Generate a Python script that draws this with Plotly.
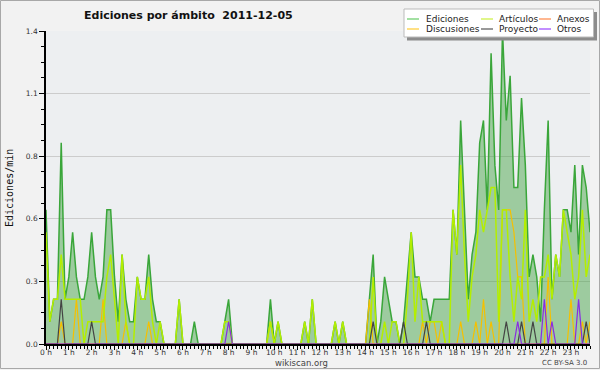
import plotly.graph_objects as go

# ---------------- data (10-minute buckets, edits per minute) ----------------
times = [i / 6 for i in range(144)]  # bucket start, hours

ediciones = [
    0.6, 0.1, 0.2, 0.2, 0.9, 0.2,
    0.3, 0.5, 0.3, 0.2, 0.2, 0.3,
    0.5, 0.3, 0.2, 0.3, 0.6, 0.6,
    0.3, 0.1, 0.4, 0.2, 0.1, 0.1,
    0.3, 0.2, 0.2, 0.4, 0.2, 0.1,
    0.1, 0.0, 0.0, 0.0, 0.0, 0.2,
    0.0, 0.0, 0.0, 0.1, 0.0, 0.0,
    0.0, 0.0, 0.0, 0.0, 0.0, 0.1,
    0.2, 0.0, 0.0, 0.0, 0.0, 0.0,
    0.0, 0.0, 0.0, 0.0, 0.0, 0.2,
    0.0, 0.1, 0.0, 0.0, 0.0, 0.0,
    0.0, 0.0, 0.1, 0.0, 0.2, 0.0,
    0.0, 0.0, 0.0, 0.0, 0.1, 0.0,
    0.1, 0.0, 0.0, 0.0, 0.0, 0.0,
    0.0, 0.2, 0.4, 0.0, 0.1, 0.3,
    0.2, 0.1, 0.1, 0.0, 0.1, 0.3,
    0.5, 0.3, 0.3, 0.2, 0.2, 0.1,
    0.2, 0.2, 0.2, 0.2, 0.2, 0.6,
    0.4, 1.0, 0.6, 0.2, 0.4, 0.5,
    0.9, 1.0, 0.6, 1.3, 0.8, 0.6,
    1.4, 1.0, 1.2, 0.7, 0.7, 1.1,
    0.8, 0.3, 0.4, 0.3, 0.1, 0.6,
    1.0, 0.2, 0.4, 0.3, 0.6, 0.6,
    0.5, 0.8, 0.4, 0.8, 0.7, 0.5,
]

articulos = [
    0.5, 0.1, 0.2, 0.2, 0.4, 0.2,
    0.2, 0.2, 0.2, 0.2, 0.0, 0.1,
    0.1, 0.1, 0.1, 0.1, 0.3, 0.4,
    0.2, 0.0, 0.4, 0.1, 0.0, 0.0,
    0.3, 0.2, 0.2, 0.3, 0.1, 0.0,
    0.1, 0.0, 0.0, 0.0, 0.0, 0.2,
    0.0, 0.0, 0.0, 0.0, 0.0, 0.0,
    0.0, 0.0, 0.0, 0.0, 0.0, 0.1,
    0.1, 0.0, 0.0, 0.0, 0.0, 0.0,
    0.0, 0.0, 0.0, 0.0, 0.0, 0.1,
    0.0, 0.1, 0.0, 0.0, 0.0, 0.0,
    0.0, 0.0, 0.1, 0.0, 0.2, 0.0,
    0.0, 0.0, 0.0, 0.0, 0.1, 0.0,
    0.1, 0.0, 0.0, 0.0, 0.0, 0.0,
    0.0, 0.0, 0.3, 0.0, 0.0, 0.1,
    0.0, 0.1, 0.1, 0.0, 0.0, 0.2,
    0.5, 0.1, 0.3, 0.1, 0.1, 0.1,
    0.1, 0.1, 0.1, 0.0, 0.0, 0.6,
    0.4, 0.8, 0.4, 0.1, 0.3, 0.4,
    0.6, 0.5, 0.6, 0.7, 0.7, 0.1,
    0.6, 0.6, 0.3, 0.1, 0.3, 0.2,
    0.6, 0.1, 0.2, 0.1, 0.3, 0.3,
    0.4, 0.2, 0.4, 0.3, 0.6, 0.5,
    0.4, 0.2, 0.3, 0.6, 0.3, 0.4,
]

discusiones = [0.0] * 144
for i, v in {4: 0.1, 8: 0.2, 15: 0.2, 21: 0.1, 27: 0.1, 59: 0.1, 85: 0.2,
             99: 0.1, 101: 0.1, 102: 0.1, 104: 0.1, 109: 0.1, 113: 0.1,
             115: 0.2, 117: 0.1, 120: 0.6, 121: 0.6, 122: 0.6, 123: 0.5,
             124: 0.3, 125: 0.3, 132: 0.3, 138: 0.2, 141: 0.1, 143: 0.1}.items():
    discusiones[i] = v

proyecto = [0.0] * 144
for i, v in {4: 0.2, 12: 0.1, 86: 0.1, 94: 0.1, 100: 0.1, 121: 0.1,
             125: 0.1, 128: 0.1, 142: 0.1}.items():
    proyecto[i] = v

otros = [0.0] * 144
for i, v in {48: 0.1, 124: 0.1, 131: 0.2, 133: 0.1, 140: 0.2}.items():
    otros[i] = v

anexos = [0.0] * 144

hour_ticks = list(range(24))
hour_labels = [f"{h} h" for h in hour_ticks]
y_ticks = [0, 0.28, 0.56, 0.84, 1.12, 1.4]
y_labels = ["0.0", "0.3", "0.6", "0.8", "1.1", "1.4"]

# ---------------- styling ----------------
C_ED_LINE = "#3aa63a"
C_ED_FILL = "rgba(60,160,60,0.45)"
C_ART = "#b4ee00"
C_DIS = "#f5c000"
C_PRO = "#444444"
C_OTR = "#8a2be2"
C_ANE = "#ff7a3a"

W, H = 600, 370
L, R, T, B = 46, 10, 31, 26
PW, PH = W - L - R, H - T - B


def px(x):
    return (x - L) / PW


def py(y):
    return (H - B - y) / PH


fig = go.Figure()
fig.add_trace(go.Scatter(x=times, y=ediciones, mode="lines", fill="tozeroy",
                         fillcolor=C_ED_FILL, line=dict(color=C_ED_LINE, width=1.5),
                         name="Ediciones", showlegend=False))
fig.add_trace(go.Scatter(x=times, y=anexos, mode="lines",
                         line=dict(color=C_ANE, width=1.2), name="Anexos", showlegend=False))
fig.add_trace(go.Scatter(x=times, y=discusiones, mode="lines",
                         line=dict(color=C_DIS, width=1.2), name="Discusiones", showlegend=False))
fig.add_trace(go.Scatter(x=times, y=articulos, mode="lines",
                         line=dict(color=C_ART, width=1.5), name="Artículos", showlegend=False))
fig.add_trace(go.Scatter(x=times, y=proyecto, mode="lines",
                         line=dict(color=C_PRO, width=1.2), name="Proyecto", showlegend=False))
fig.add_trace(go.Scatter(x=times, y=otros, mode="lines",
                         line=dict(color=C_OTR, width=1.2), name="Otros", showlegend=False))

tickfont = dict(family="DejaVu Sans", size=7.5, color="#333333")

fig.update_xaxes(range=[0, times[-1]], tickmode="array", tickvals=hour_ticks,
                 ticktext=hour_labels, ticks="outside", ticklen=4, tickwidth=1,
                 tickcolor="black", showline=True, linecolor="black", linewidth=1.5,
                 showgrid=False, zeroline=False, tickfont=tickfont,
                 ticklabelstandoff=-4,
                 minor=dict(tickmode="array", tickvals=times, ticks="outside",
                            ticklen=3, tickcolor="black", showgrid=False))
fig.update_yaxes(range=[0, 1.4], tickmode="array", tickvals=y_ticks,
                 ticktext=y_labels, ticks="outside", ticklen=5, tickwidth=1,
                 tickcolor="black", showline=True, linecolor="black", linewidth=1.5,
                 showgrid=True, gridcolor="#cccccc", gridwidth=1, zeroline=False,
                 tickfont=tickfont,
                 minor=dict(tickmode="array", tickvals=[k * 0.07 for k in range(21)],
                            ticks="outside", ticklen=3, tickcolor="black", showgrid=False))

shapes = []
annotations = []

# outer border
shapes.append(dict(type="rect", xref="paper", yref="paper", x0=px(0.5), x1=px(599.5),
                   y0=py(368.5), y1=py(0.5), line=dict(color="#a8a8a8", width=1),
                   fillcolor="rgba(0,0,0,0)", layer="below"))

# title
annotations.append(dict(xref="paper", yref="paper", x=px(188), y=py(15),
                        text="<b>Ediciones por ámbito  2011-12-05</b>", showarrow=False,
                        font=dict(family="DejaVu Sans", size=11, color="#111111"),
                        xanchor="center", yanchor="middle"))
# y axis title
annotations.append(dict(xref="paper", yref="paper", x=px(9), y=py(188),
                        text="Ediciones/min", textangle=-90, showarrow=False,
                        font=dict(family="DejaVu Sans Mono", size=10, color="#111111"),
                        xanchor="center", yanchor="middle"))
# footer texts
annotations.append(dict(xref="paper", yref="paper", x=px(301), y=py(362.5),
                        text="wikiscan.org", showarrow=False,
                        font=dict(family="DejaVu Sans", size=8.5, color="#444444"),
                        xanchor="center", yanchor="middle"))
annotations.append(dict(xref="paper", yref="paper", x=px(589), y=py(362.5),
                        text="CC BY-SA 3.0", showarrow=False,
                        font=dict(family="DejaVu Sans", size=7, color="#444444"),
                        xanchor="right", yanchor="middle"))

# legend (drawn manually to match the 3x2 boxed layout)
shapes.append(dict(type="rect", xref="paper", yref="paper", x0=px(407), x1=px(597),
                   y0=py(40.5), y1=py(12), line=dict(width=0), fillcolor="#8c8c8c",
                   layer="above"))
shapes.append(dict(type="rect", xref="paper", yref="paper", x0=px(404), x1=px(593.5),
                   y0=py(37), y1=py(9), line=dict(color="#bbbbbb", width=1),
                   fillcolor="#ffffff", layer="above"))
legend_items = [
    ("Ediciones", "#66cc66", 407, 424, 19),
    ("Artículos", "#ccf03c", 481, 497, 19),
    ("Anexos", "#ff8848", 539, 555, 19),
    ("Discusiones", "#ffcc33", 407, 424, 29),
    ("Proyecto", "#555555", 481, 497, 29),
    ("Otros", "#9a44ff", 539, 555, 29),
]
for name, col, lx, tx, ty in legend_items:
    shapes.append(dict(type="line", xref="paper", yref="paper", x0=px(lx), x1=px(lx + 12),
                       y0=py(ty), y1=py(ty), line=dict(color=col, width=1.2), layer="above"))
    annotations.append(dict(xref="paper", yref="paper", x=px(tx), y=py(ty), text=name,
                            showarrow=False, xanchor="left", yanchor="middle",
                            font=dict(family="DejaVu Sans", size=9, color="#222222")))

fig.update_layout(width=W, height=H, margin=dict(l=L, r=R, t=T, b=B, pad=0),
                  paper_bgcolor="#f2f2f2", plot_bgcolor="#edeff1",
                  shapes=shapes, annotations=annotations, showlegend=False)

fig.write_html("out.html", config={"displayModeBar": False},
               post_script="document.body.style.margin='0';document.body.style.overflow='hidden';")
